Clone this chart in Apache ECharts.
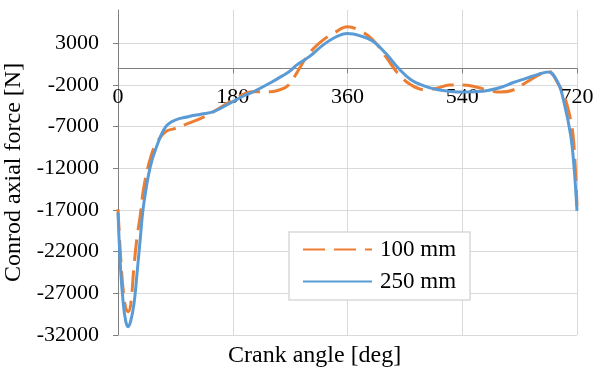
<!DOCTYPE html>
<html><head><meta charset="utf-8">
<script src="https://cdn.jsdelivr.net/npm/echarts@6/dist/echarts.min.js"></script>
<style>html,body{margin:0;padding:0;background:#fff}#c{width:596px;height:372px}</style>
</head><body><div id="c"></div>
<script>
const angles   = [0, 4, 8, 12, 16, 20, 25, 30, 35, 40, 50, 60, 75, 90, 110, 130, 150, 180, 200, 210, 240, 260, 270, 280, 300, 320, 340, 360, 380, 400, 420, 440, 460, 480, 500, 520, 540, 560, 580, 600, 620, 640, 660, 675, 690, 700, 710, 715, 720];
const force100 = [-16900, -22500, -26500, -28700, -29200, -28300, -23800, -20200, -17600, -14500, -11000, -9000, -7600, -7200, -6600, -6000, -5200, -3800, -3000, -2800, -2800, -2400, -1800, -600, 1800, 3300, 4300, 5000, 4500, 3400, 1400, -700, -2000, -2550, -2400, -2000, -2000, -2200, -2600, -2850, -2600, -1700, -800, -350, -1800, -3300, -6200, -9000, -16500];
const force250 = [-17300, -24000, -28000, -30300, -31000, -30300, -28300, -24500, -20400, -16500, -12000, -9500, -7000, -6200, -5800, -5500, -5200, -4000, -3200, -2900, -1700, -800, -300, 380, 1400, 2700, 3700, 4180, 3900, 3250, 1800, 0, -1400, -2100, -2550, -2750, -2850, -2800, -2650, -2300, -1700, -1200, -700, -450, -1700, -4200, -8000, -11500, -17100];
const seriesNames = ['100 mm', '250 mm'];
const xTicks = [0, 180, 360, 540, 720];
const yTicks = [-32000, -27000, -22000, -17000, -12000, -7000, -2000, 3000];
const yMin = -32000, yMax = 7000;

const font = 'Liberation Serif';
const gridTop = 10, gridBottom = 37, H = 372;
const zeroOffset = (H - gridTop - gridBottom) * yMax / (yMax - yMin);
const chart = echarts.init(document.getElementById('c'));
const pairs = (v) => angles.map((a, i) => [a, v[i]]);
chart.setOption({
  animation: false,
  backgroundColor: '#fff',
  grid: { left: 118, right: 19, top: gridTop, bottom: gridBottom, outerBoundsMode: 'none', containLabel: false },
  legend: {
    orient: 'vertical', left: 289, top: 232,
    data: seriesNames,
    itemWidth: 69, itemHeight: 14, itemGap: 9,
    padding: [6, 14, 7, 13],
    backgroundColor: '#fff', borderColor: '#d9d9d9', borderWidth: 1.5,
    itemStyle: { opacity: 0 },
    textStyle: { fontFamily: font, fontSize: 23, color: '#000', padding: [0, 0, 0, 3] }
  },
  xAxis: {
    type: 'value', min: xTicks[0], max: xTicks[xTicks.length - 1], interval: 180, position: 'top',
    offset: -zeroOffset,
    axisLine: { show: true, onZero: false, lineStyle: { color: '#808080', width: 1 } },
    axisTick: { show: true, inside: true, length: 5, lineStyle: { color: '#808080' } },
    axisLabel: { inside: true, fontFamily: font, fontSize: 22, color: '#000', margin: 18 },
    splitLine: { show: true, lineStyle: { color: '#d9d9d9', width: 1 } }
  },
  yAxis: {
    type: 'value', min: yMin, max: yMax,
    name: 'Conrod axial force [N]', nameLocation: 'middle', nameGap: 85,
    nameTextStyle: { fontFamily: font, fontSize: 24, color: '#000' },
    axisLine: { show: true, onZero: false, lineStyle: { color: '#808080', width: 1 } },
    axisTick: { show: true, length: 5, lineStyle: { color: '#808080' }, customValues: yTicks },
    axisLabel: { fontFamily: font, fontSize: 22, color: '#000', margin: 19, customValues: yTicks,
                 formatter: (v) => String(v) },
    splitLine: { show: true, lineStyle: { color: '#d9d9d9', width: 1 } }
  },
  graphic: [{
    type: 'text', left: 228, top: 344,
    style: { text: 'Crank angle [deg]', fontFamily: font, fontSize: 24, fill: '#000' }
  }],
  series: [
    { name: seriesNames[0], type: 'line', data: pairs(force100), smooth: 0.4, symbol: 'none',
      lineStyle: { color: '#ED7D31', width: 3, type: [22, 9] }, itemStyle: { color: '#ED7D31' } },
    { name: seriesNames[1], type: 'line', data: pairs(force250), smooth: 0.4, symbol: 'none',
      lineStyle: { color: '#5B9BD5', width: 3 }, itemStyle: { color: '#5B9BD5' } }
  ]
});
</script></body></html>
